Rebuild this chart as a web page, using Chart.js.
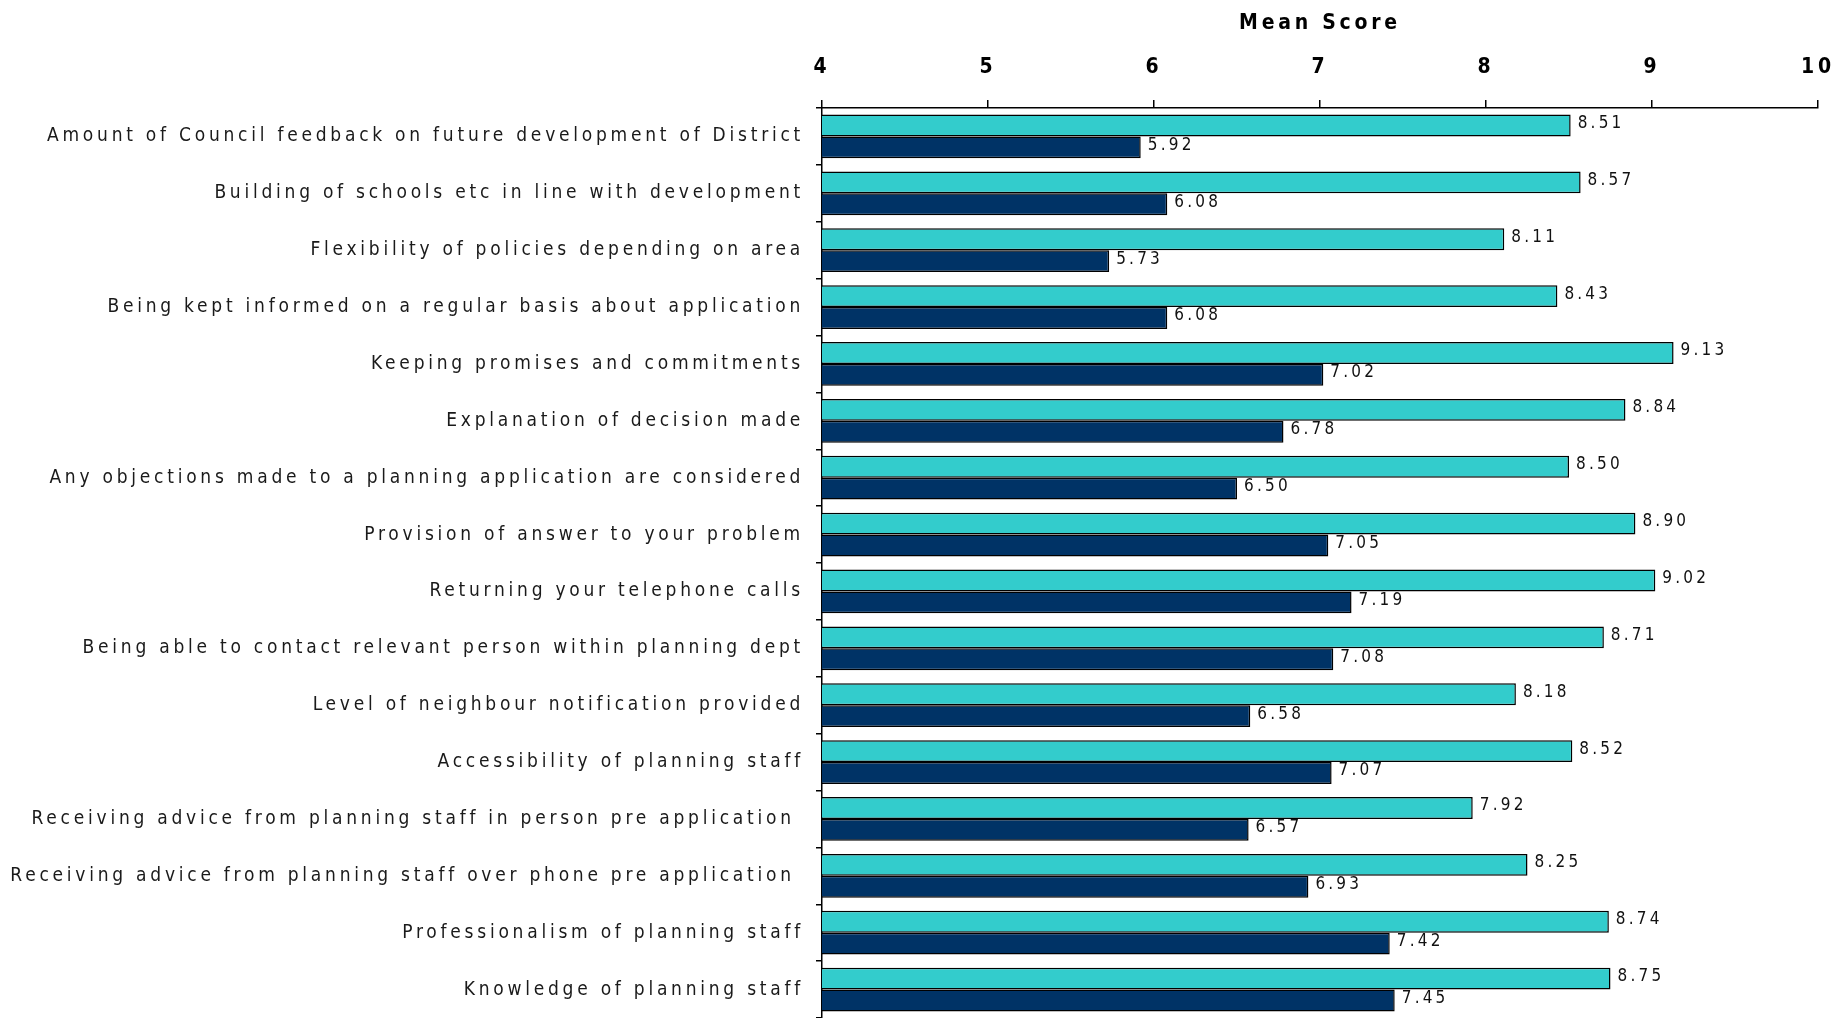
<!DOCTYPE html>
<html>
<head>
<meta charset="utf-8">
<script src="https://cdn.jsdelivr.net/npm/chart.js@4.4.0/dist/chart.umd.min.js"></script>
<style>
  html, body { margin: 0; padding: 0; background: #fff; }
  #wrap { width: 1837px; height: 1018px; position: relative; }
</style>
</head>
<body>
<div id="wrap"><canvas id="scoreChart"></canvas></div>
<script>
const categories = [
  'Amount of Council feedback on future development of District',
  'Building of schools etc in line with development',
  'Flexibility of policies depending on area',
  'Being kept informed on a regular basis about application',
  'Keeping promises and commitments',
  'Explanation of decision made',
  'Any objections made to a planning application are considered',
  'Provision of answer to your problem',
  'Returning your telephone calls',
  'Being able to contact relevant person within planning dept',
  'Level of neighbour notification provided',
  'Accessibility of planning staff',
  'Receiving advice from planning staff in person pre application ',
  'Receiving advice from planning staff over phone pre application ',
  'Professionalism of planning staff',
  'Knowledge of planning staff'
];
const importance = [8.51, 8.57, 8.11, 8.43, 9.13, 8.84, 8.50, 8.90, 9.02, 8.71, 8.18, 8.52, 7.92, 8.25, 8.74, 8.75];
const satisfaction = [5.92, 6.08, 5.73, 6.08, 7.02, 6.78, 6.50, 7.05, 7.19, 7.08, 6.58, 7.07, 6.57, 6.93, 7.42, 7.45];
const xTicks = [4, 5, 6, 7, 8, 9, 10];

const FONT = "'DejaVu Sans Condensed', 'DejaVu Sans', Verdana, sans-serif";

// spaced-out lettering like the original report charts
const spacing = {
  id: 'spacing',
  beforeLayout(chart) { chart.ctx.letterSpacing = '3.75px'; },
  beforeDraw(chart) { chart.ctx.letterSpacing = '3.75px'; }
};

// value printed just past the end of each bar
const valueLabels = {
  id: 'valueLabels',
  afterDatasetsDraw(chart) {
    const ctx = chart.ctx;
    ctx.save();
    ctx.letterSpacing = '3.2px';
    ctx.font = '17px ' + FONT;
    ctx.fillStyle = '#111';
    ctx.textAlign = 'left';
    ctx.textBaseline = 'middle';
    chart.data.datasets.forEach((ds, i) => {
      chart.getDatasetMeta(i).data.forEach((bar, j) => {
        ctx.fillText(ds.data[j].toFixed(2), bar.x + 7, bar.y - 2);
      });
    });
    ctx.restore();
  }
};

new Chart(document.getElementById('scoreChart'), {
  type: 'bar',
  data: {
    labels: categories,
    datasets: [{
      label: 'Importance',
      data: importance,
      backgroundColor: '#33CCCC',
      borderColor: '#000',
      borderWidth: 1.5,
      categoryPercentage: 0.77,
      barPercentage: 1.0
    }, {
      label: 'Satisfaction',
      data: satisfaction,
      backgroundColor: '#003366',
      borderColor: '#000',
      borderWidth: 1.5,
      categoryPercentage: 0.77,
      barPercentage: 1.0
    }]
  },
  options: {
    indexAxis: 'y',
    responsive: true,
    maintainAspectRatio: false,
    animation: false,
    layout: { padding: { left: 0, right: 19, top: 0, bottom: 0 } },
    plugins: {
      legend: { display: false },
      tooltip: { enabled: false }
    },
    scales: {
      x: {
        position: 'top',
        min: 4,
        max: 10,
        afterBuildTicks: (scale) => { scale.ticks = xTicks.map(v => ({ value: v })); },
        afterFit: (scale) => {
          scale.height = 108;
          scale.paddingLeft = 0;
          scale.paddingRight = 0;
        },
        ticks: {
          color: '#000',
          padding: 20,
          font: { family: FONT, size: 21, weight: 'bold' }
        },
        grid: { drawOnChartArea: false, tickLength: 8, color: '#000', lineWidth: 1.5 },
        border: { color: '#000', width: 1.5 },
        title: {
          display: true,
          text: 'Mean Score',
          color: '#000',
          padding: { top: 11, bottom: 0 },
          font: { family: FONT, size: 21, weight: 'bold' }
        }
      },
      y: {
        afterFit: (scale) => {
          scale.width = 822;
          scale.paddingTop = 0;
          scale.paddingBottom = 0;
        },
        ticks: {
          color: '#1a1a1a',
          padding: 12,
          autoSkip: false,
          font: { family: FONT, size: 19 }
        },
        grid: { offset: true, drawOnChartArea: false, tickLength: 6, color: '#000', lineWidth: 1.5 },
        border: { color: '#000', width: 1.5 }
      }
    }
  },
  plugins: [spacing, valueLabels]
});
</script>
</body>
</html>
